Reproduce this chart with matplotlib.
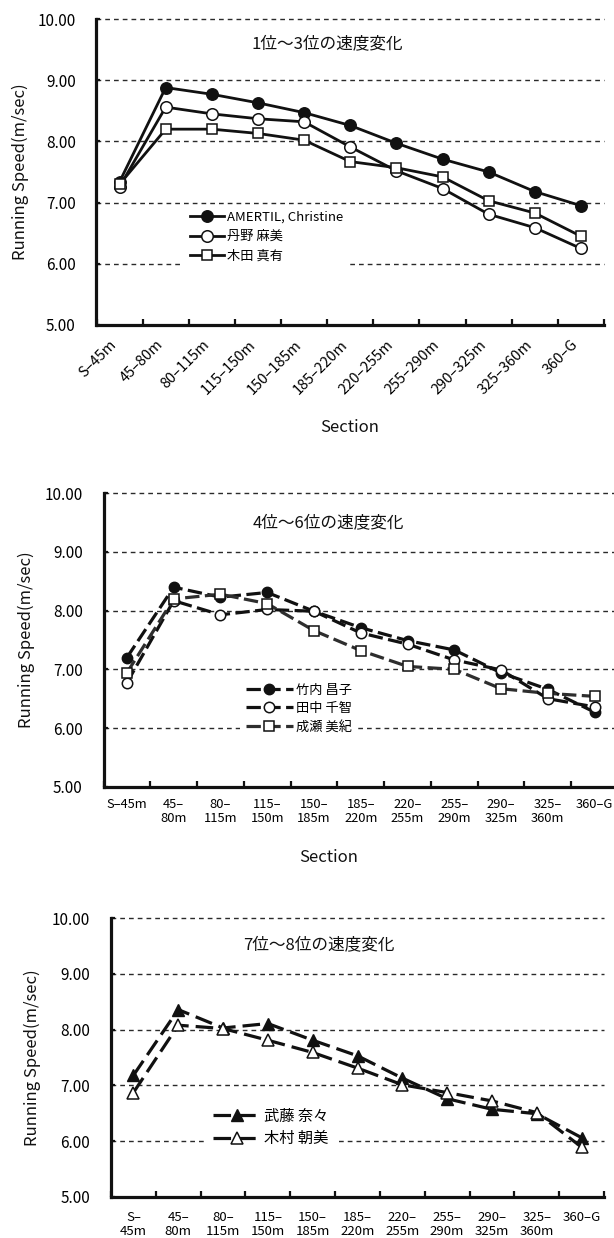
import matplotlib
matplotlib.use("Agg")
import matplotlib.pyplot as plt
import numpy as np

plt.rcParams['font.family'] = ['Noto Sans CJK JP', 'DejaVu Sans']

# ---------------- data ----------------
labels_rot = ["S–45m", "45–80m", "80–115m", "115–150m", "150–185m", "185–220m",
              "220–255m", "255–290m", "290–325m", "325–360m", "360–G"]
labels_mid = ["S–45m", "45–\n80m", "80–\n115m", "115–\n150m", "150–\n185m", "185–\n220m",
              "220–\n255m", "255–\n290m", "290–\n325m", "325–\n360m", "360–G"]
labels_low = ["S–\n45m", "45–\n80m", "80–\n115m", "115–\n150m", "150–\n185m", "185–\n220m",
              "220–\n255m", "255–\n290m", "290–\n325m", "325–\n360m", "360–G"]

titles = ["1位～3位の速度変化", "4位～6位の速度変化", "7位～8位の速度変化"]
ylabel = "Running Speed(m/sec)"
xlabel = "Section"
yticks = [5, 6, 7, 8, 9, 10]

names1 = ["AMERTIL, Christine", "丹野 麻美", "木田 真有"]
amertil = [7.34, 8.88, 8.77, 8.63, 8.47, 8.26, 7.97, 7.71, 7.50, 7.18, 6.95]
tanno = [7.26, 8.56, 8.45, 8.37, 8.32, 7.91, 7.52, 7.23, 6.81, 6.59, 6.25]
kida = [7.30, 8.20, 8.20, 8.13, 8.02, 7.67, 7.57, 7.42, 7.03, 6.83, 6.45]

names2 = ["竹内 昌子", "田中 千智", "成瀬 美紀"]
takeuchi = [7.20, 8.40, 8.23, 8.31, 7.99, 7.71, 7.49, 7.33, 6.94, 6.66, 6.27]
tanaka = [6.77, 8.17, 7.93, 8.02, 7.99, 7.62, 7.43, 7.16, 6.99, 6.50, 6.36]
naruse = [6.94, 8.20, 8.28, 8.12, 7.66, 7.32, 7.05, 7.00, 6.67, 6.59, 6.54]

names3 = ["武藤 奈々", "木村 朝美"]
muto = [7.18, 8.36, 8.03, 8.11, 7.81, 7.53, 7.13, 6.76, 6.57, 6.49, 6.06]
kimura = [6.87, 8.08, 8.02, 7.81, 7.59, 7.31, 7.01, 6.87, 6.72, 6.51, 5.89]

# ---------------- layout ----------------
W, H = 614, 1238
fig = plt.figure(figsize=(W / 100, H / 100), dpi=100)


def ax_at(l, r, t, b):
    return fig.add_axes([l / W, 1 - b / H, (r - l) / W, (b - t) / H])


def ftext(x, y, s, **kw):
    fig.text(x / W, 1 - y / H, s, **kw)


def style(ax, labels, rot, fs, pad):
    n = len(labels)
    ax.set_xlim(-0.5, n - 0.5)
    ax.set_ylim(5, 10)
    ax.set_yticks(yticks)
    ax.set_yticklabels(["%.2f" % v for v in yticks], fontsize=11)
    ax.set_xticks(np.arange(n + 1) - 0.5)
    ax.set_xticklabels([])
    ax.set_xticks(np.arange(n), minor=True)
    if rot:
        ax.set_xticklabels(labels, minor=True, fontsize=fs, rotation=45,
                           ha='right', va='top')
    else:
        ax.set_xticklabels(labels, minor=True, fontsize=fs, ha='center',
                           va='top', linespacing=1.15)
    ax.tick_params(axis='x', which='major', direction='in', length=4, width=1.6,
                   color='#111111')
    ax.tick_params(axis='x', which='minor', length=0, pad=pad)
    ax.tick_params(axis='y', direction='in', length=3, width=1.6, pad=15,
                   color='#111111')
    for s in ['top', 'right']:
        ax.spines[s].set_visible(False)
    for s in ['left', 'bottom']:
        ax.spines[s].set_linewidth(2.3)
        ax.spines[s].set_color('#111111')
    for v in yticks[1:]:
        ax.axhline(v, color='#2a2a2a', lw=1.0, dashes=(3.4, 2.9), zorder=0.5,
                   clip_on=False)


x = np.arange(len(labels_rot))
blk = '#111111'

# ---------- chart 1 ----------
ax1 = ax_at(96.5, 604, 19, 325)
style(ax1, labels_rot, True, 10.5, 9)
ax1.plot(x, amertil, color=blk, lw=2.0, marker='o', ms=8.3, mfc=blk, mec=blk,
         label=names1[0], zorder=3)
ax1.plot(x, tanno, color=blk, lw=2.0, marker='o', ms=8.3, mfc='white', mec=blk,
         mew=1.1, label=names1[1], zorder=3)
ax1.plot(x, kida, color=blk, lw=2.0, marker='s', ms=7.8, mfc='white', mec=blk,
         mew=1.1, label=names1[2], zorder=3)
leg1 = ax1.legend(loc='upper left', bbox_to_anchor=(177 / W, 1 - 198 / H),
                  bbox_transform=fig.transFigure, frameon=True, fancybox=False,
                  edgecolor='none', facecolor='white', framealpha=1,
                  fontsize=9.5, handlelength=2.6, handletextpad=0.25,
                  labelspacing=0.5, borderpad=0.45)
ftext(327, 44, titles[0], fontsize=12, ha='center', va='center', color=blk)
ftext(20, 172, ylabel, fontsize=12, rotation=90, ha='center', va='center', color=blk)
ftext(350, 427, xlabel, fontsize=12, ha='center', va='center', color=blk)

# ---------- chart 2 ----------
ax2 = ax_at(103.5, 618, 493.3, 786.7)
style(ax2, labels_mid, False, 9.3, 8)
d2 = (4.5, 1.7)
ax2.plot(x, takeuchi, color=blk, lw=2.3, dashes=d2, marker='o', ms=7.5, mfc=blk,
         mec=blk, label=names2[0], zorder=3)
ax2.plot(x, tanaka, color=blk, lw=2.3, dashes=d2, marker='o', ms=7.5, mfc='white',
         mec=blk, mew=1.1, label=names2[1], zorder=3)
ax2.plot(x, naruse, color='#2e2e2e', lw=2.3, dashes=d2, marker='s', ms=7, mfc='white',
         mec=blk, mew=1.1, label=names2[2], zorder=3)
leg2 = ax2.legend(loc='upper left', bbox_to_anchor=(233 / W, 1 - 671 / H),
                  bbox_transform=fig.transFigure, frameon=True, fancybox=False,
                  edgecolor='none', facecolor='white', framealpha=1,
                  fontsize=9.5, handlelength=3.6, handletextpad=0.25,
                  labelspacing=0.42, borderpad=0.45)
ftext(328, 523, titles[1], fontsize=12, ha='center', va='center', color=blk)
ftext(26, 640, ylabel, fontsize=12, rotation=90, ha='center', va='center', color=blk)
ftext(329, 858, xlabel, fontsize=12, ha='center', va='center', color=blk)

# ---------- chart 3 ----------
ax3 = ax_at(111, 604, 918.3, 1196.7)
style(ax3, labels_low, False, 9.5, 10)
d3 = (5.5, 2.2)
ax3.plot(x, muto, color=blk, lw=2.3, dashes=d3, marker='^', ms=8.5, mfc=blk,
         mec=blk, label=names3[0], zorder=3)
ax3.plot(x, kimura, color=blk, lw=2.3, dashes=d3, marker='^', ms=8.5, mfc='white',
         mec=blk, mew=1.1, label=names3[1], zorder=3)
leg3 = ax3.legend(loc='upper left', bbox_to_anchor=(198 / W, 1 - 1093 / H),
                  bbox_transform=fig.transFigure, frameon=True, fancybox=False,
                  edgecolor='none', facecolor='white', framealpha=1,
                  fontsize=11, handlelength=3.2, handletextpad=0.2,
                  labelspacing=0.35, borderpad=0.45)
ftext(319, 945, titles[2], fontsize=12, ha='center', va='center', color=blk)
ftext(32, 1058, ylabel, fontsize=12, rotation=90, ha='center', va='center', color=blk)

fig.savefig("out.png", dpi=100)
